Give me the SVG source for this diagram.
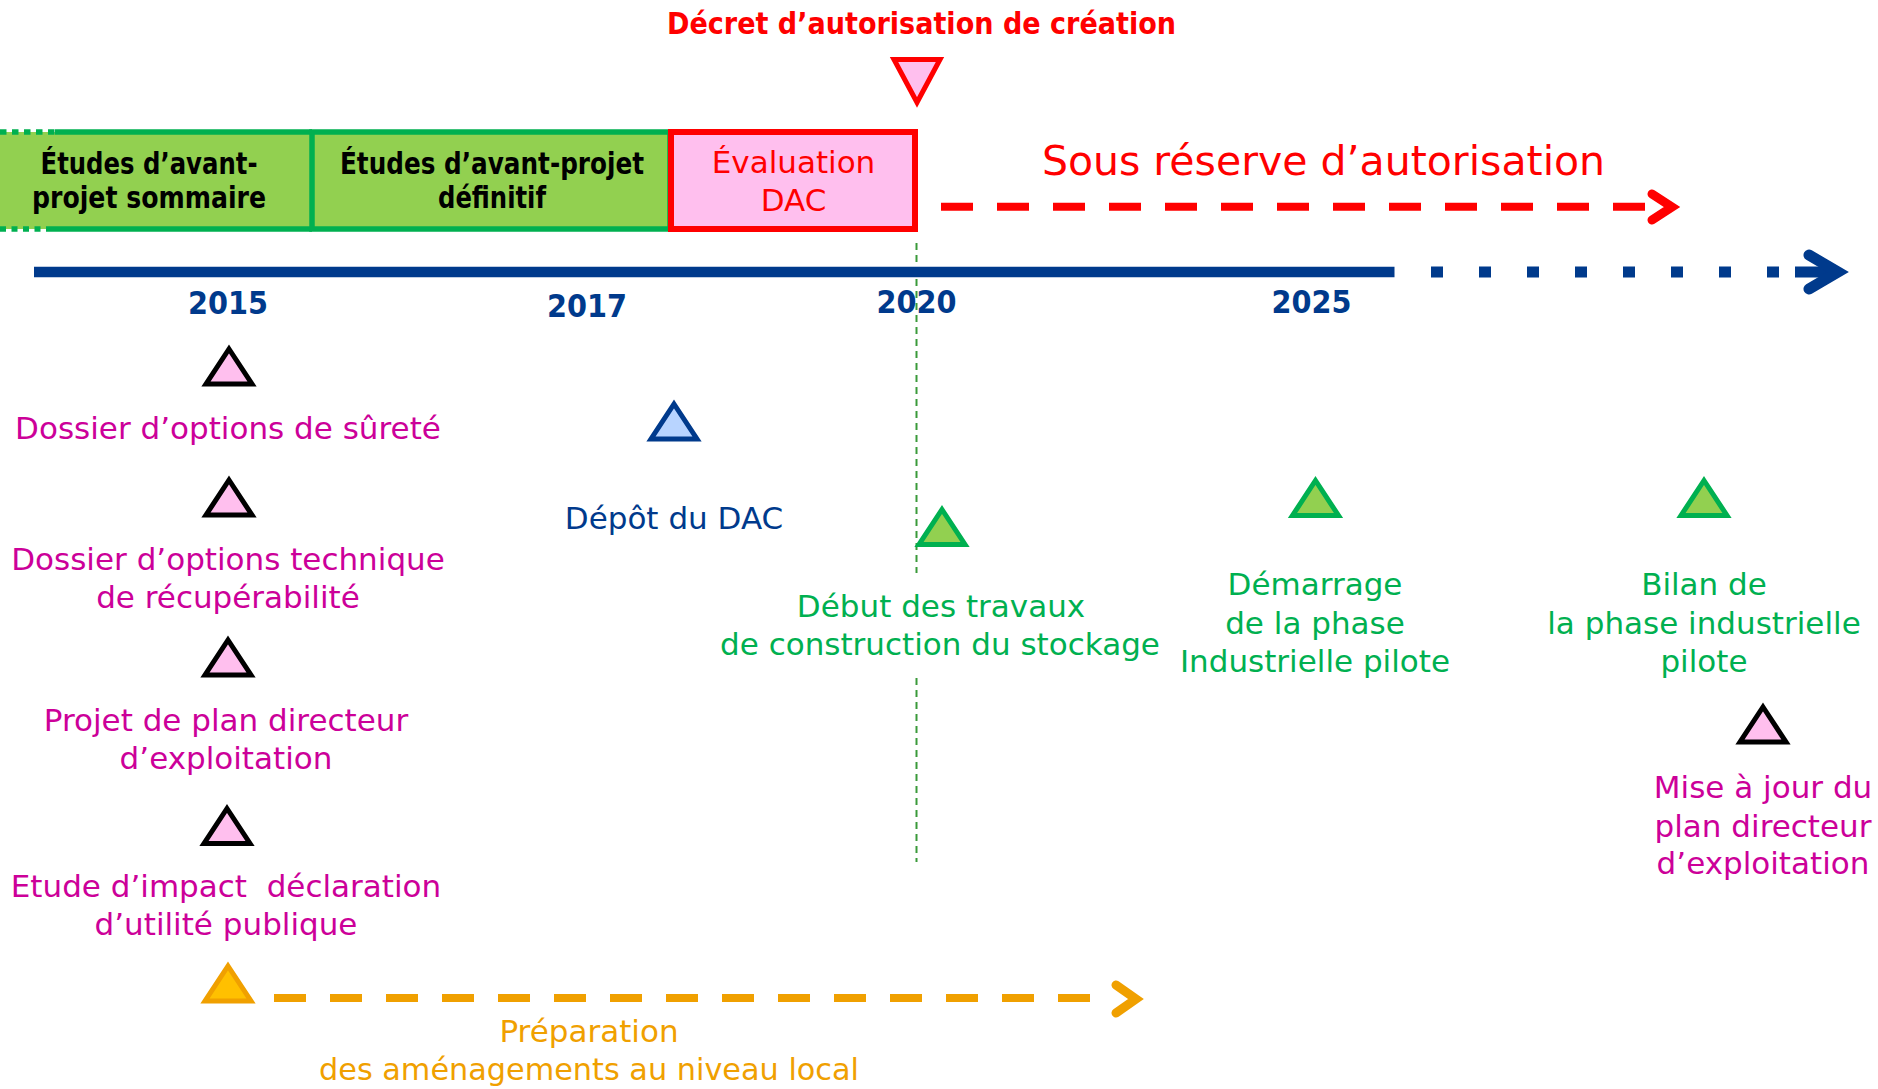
<svg xmlns="http://www.w3.org/2000/svg" xmlns:xlink="http://www.w3.org/1999/xlink" width="1878" height="1089" viewBox="0 0 1878 1089">
<style>
.lbl{font-family:"DejaVu Sans","Noto Sans",sans-serif;font-size:31px;text-anchor:middle}
.b{font-weight:bold}
.mag{fill:#CC0099}.grn{fill:#00B050}.blu{fill:#003A8C}.org{fill:#F0A000}.red{fill:#FF0000}.blk{fill:#000}
.tp{fill:#FFBFEE;stroke:#000;stroke-width:5;stroke-linejoin:miter}
.tg{fill:#92D050;stroke:#00B050;stroke-width:5;stroke-linejoin:miter}
.tb{fill:#B8D4FF;stroke:#003A8C;stroke-width:5;stroke-linejoin:miter}
.to{fill:#FFC000;stroke:#F0A000;stroke-width:5;stroke-linejoin:miter}
.gbox{fill:#92D050;stroke:none}
.gb{stroke:#00B050;stroke-width:5.5;fill:none}
</style>
<defs>
<path id="tri" d="M0,-17 L23,18 L-23,18 Z"/>
</defs>
<rect width="1878" height="1089" fill="#fff"/>

<g id="connectors">
  <line x1="916.5" y1="243" x2="916.5" y2="573" stroke="#3A9A3A" stroke-width="2" stroke-dasharray="7 5"/>
  <line x1="916.5" y1="678" x2="916.5" y2="862" stroke="#3A9A3A" stroke-width="2" stroke-dasharray="7 5"/>
  <line x1="34" y1="272" x2="1394.5" y2="272" stroke="#003A8C" stroke-width="10.5"/>
  <g fill="#003A8C">
    <rect x="1431" y="266.5" width="12" height="11"/>
    <rect x="1479" y="266.5" width="12" height="11"/>
    <rect x="1527" y="266.5" width="12" height="11"/>
    <rect x="1575" y="266.5" width="12" height="11"/>
    <rect x="1623" y="266.5" width="12" height="11"/>
    <rect x="1671" y="266.5" width="12" height="11"/>
    <rect x="1719" y="266.5" width="12" height="11"/>
    <rect x="1767" y="266.5" width="12" height="11"/>
  </g>
  <line x1="1795" y1="272" x2="1832" y2="272" stroke="#003A8C" stroke-width="11"/>
  <polyline points="1809,255 1838,272 1809,289" fill="none" stroke="#003A8C" stroke-width="11" stroke-linecap="round" stroke-linejoin="miter"/>
  <line x1="941" y1="206.7" x2="1645" y2="206.7" stroke="#FF0000" stroke-width="8" stroke-dasharray="32 24"/>
  <polyline points="1652,194 1672,207 1652,220" fill="none" stroke="#FF0000" stroke-width="9" stroke-linecap="round" stroke-linejoin="miter"/>
  <line x1="274" y1="998" x2="1090" y2="998" stroke="#F0A000" stroke-width="8" stroke-dasharray="32 24"/>
  <polyline points="1116,985 1136,999 1116,1013" fill="none" stroke="#F0A000" stroke-width="9" stroke-linecap="round" stroke-linejoin="miter"/>
</g>

<g id="title">
  <text class="lbl b red" x="921.5" y="34" textLength="509" lengthAdjust="spacingAndGlyphs" style="font-size:30px">Décret d’autorisation de création</text>
  <path d="M894,59.5 L940,59.5 L917,102.5 Z" fill="#FFBFEE" stroke="#FF0000" stroke-width="5"/>
</g>

<g id="phase-aps">
  <rect class="gbox" x="0" y="132" width="312" height="97"/>
  <line class="gb" x1="55" y1="132" x2="312" y2="132"/>
  <line class="gb" x1="52" y1="229" x2="312" y2="229"/>
  <line class="gb" x1="0" y1="132" x2="55" y2="132" stroke-dasharray="6.5 5.5"/>
  <line class="gb" x1="0" y1="229" x2="52" y2="229" stroke-dasharray="6 5.5"/>
  <text class="lbl b blk" x="149" y="174" textLength="217" lengthAdjust="spacingAndGlyphs" style="font-size:30px">Études d’avant-</text>
  <text class="lbl b blk" x="149" y="208" textLength="234" lengthAdjust="spacingAndGlyphs" style="font-size:30px">projet sommaire</text>
</g>

<g id="phase-apd">
  <rect x="312" y="132" width="358" height="97" fill="#92D050" stroke="#00B050" stroke-width="5.5"/>
  <text class="lbl b blk" x="492" y="174" textLength="304" lengthAdjust="spacingAndGlyphs" style="font-size:30px">Études d’avant-projet</text>
  <text class="lbl b blk" x="492" y="208" textLength="108" lengthAdjust="spacingAndGlyphs" style="font-size:30px">définitif</text>
</g>

<g id="phase-eval">
  <rect x="671" y="132" width="244" height="97" fill="#FFBFEE" stroke="#FF0000" stroke-width="6"/>
  <text class="lbl red" x="793.5" y="173">Évaluation</text>
  <text class="lbl red" x="793.5" y="211">DAC</text>
</g>

<g id="sous-reserve">
  <text class="lbl red" x="1323.5" y="175" style="font-size:41px">Sous réserve d’autorisation</text>
</g>

<g id="years">
  <text class="lbl b blu" x="228" y="314" textLength="80" lengthAdjust="spacingAndGlyphs" style="font-size:32px">2015</text>
  <text class="lbl b blu" x="587" y="317" textLength="80" lengthAdjust="spacingAndGlyphs" style="font-size:32px">2017</text>
  <text class="lbl b blu" x="916.5" y="313" textLength="80" lengthAdjust="spacingAndGlyphs" style="font-size:32px">2020</text>
  <text class="lbl b blu" x="1311.5" y="313" textLength="80" lengthAdjust="spacingAndGlyphs" style="font-size:32px">2025</text>
</g>

<g id="dos-surete">
  <use xlink:href="#tri" href="#tri" class="tp" x="229" y="366"/>
  <text class="lbl mag" x="228" y="439">Dossier d’options de sûreté</text>
</g>
<g id="dos-recup">
  <use xlink:href="#tri" href="#tri" class="tp" x="229" y="497"/>
  <text class="lbl mag" x="228" y="570">Dossier d’options technique</text>
  <text class="lbl mag" x="228" y="608">de récupérabilité</text>
</g>
<g id="pde">
  <use xlink:href="#tri" href="#tri" class="tp" x="228" y="657"/>
  <text class="lbl mag" x="226" y="731">Projet de plan directeur</text>
  <text class="lbl mag" x="226" y="769">d’exploitation</text>
</g>
<g id="etude-impact">
  <use xlink:href="#tri" href="#tri" class="tp" x="227" y="825.5"/>
  <text class="lbl mag" x="226" y="897" style="white-space:pre">Etude d’impact  déclaration</text>
  <text class="lbl mag" x="226" y="935">d’utilité publique</text>
</g>
<g id="preparation">
  <use xlink:href="#tri" href="#tri" class="to" x="228" y="983"/>
  <text class="lbl org" x="589" y="1042">Préparation</text>
  <text class="lbl org" x="589" y="1080" textLength="540" lengthAdjust="spacingAndGlyphs">des aménagements au niveau local</text>
</g>
<g id="depot-dac">
  <use xlink:href="#tri" href="#tri" class="tb" x="674" y="421"/>
  <text class="lbl blu" x="674" y="529">Dépôt du DAC</text>
</g>
<g id="debut-travaux">
  <use xlink:href="#tri" href="#tri" class="tg" x="942" y="526.5"/>
  <text class="lbl grn" x="941" y="617">Début des travaux</text>
  <text class="lbl grn" x="940" y="655">de construction du stockage</text>
</g>
<g id="demarrage">
  <use xlink:href="#tri" href="#tri" class="tg" x="1315.5" y="497.5"/>
  <text class="lbl grn" x="1315" y="595">Démarrage</text>
  <text class="lbl grn" x="1315" y="634">de la phase</text>
  <text class="lbl grn" x="1315" y="672">Industrielle pilote</text>
</g>
<g id="bilan">
  <use xlink:href="#tri" href="#tri" class="tg" x="1704" y="497.5"/>
  <text class="lbl grn" x="1704" y="595">Bilan de</text>
  <text class="lbl grn" x="1704" y="634">la phase industrielle</text>
  <text class="lbl grn" x="1704" y="672">pilote</text>
</g>
<g id="maj-pde">
  <use xlink:href="#tri" href="#tri" class="tp" x="1763" y="724"/>
  <text class="lbl mag" x="1763" y="798">Mise à jour du</text>
  <text class="lbl mag" x="1763" y="837">plan directeur</text>
  <text class="lbl mag" x="1763" y="874">d’exploitation</text>
</g>
</svg>
